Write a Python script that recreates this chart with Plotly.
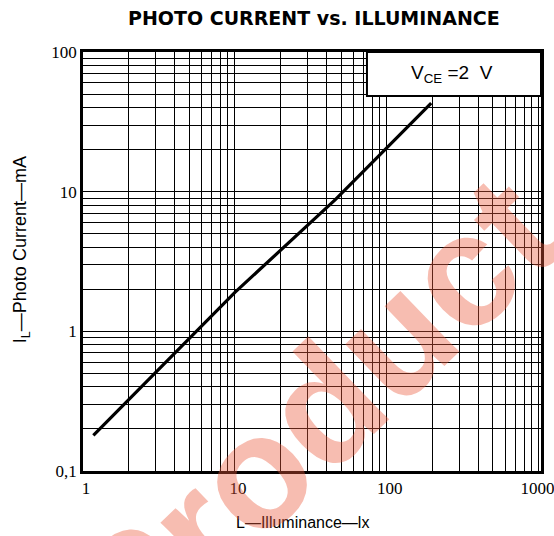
import plotly.graph_objects as go

# Data (log-log straight line)
illuminance_lx = [1.17, 10, 46, 196]
photo_current_mA = [0.18, 1.9, 8.8, 43]

# Axis ticks
x_major = [1, 10, 100, 1000]
x_major_labels = ["1", "10", "100", "1000\u00a0\u00a0"]
y_major = [0.1, 1, 10, 100]
y_major_labels = ["0,1", "1", "10", "100"]

def all_ticks(majors, labels):
    vals, texts = [], []
    for m, lab in zip(majors, labels):
        vals.append(m)
        texts.append(lab)
    for m in majors[:-1]:
        for k in range(2, 10):
            vals.append(m * k)
            texts.append("")
    return vals, texts

xv, xt = all_ticks(x_major, x_major_labels)
yv, yt = all_ticks(y_major, y_major_labels)

fig = go.Figure()
fig.add_trace(go.Scatter(
    x=illuminance_lx, y=photo_current_mA, mode="lines",
    line=dict(color="black", width=3.2), showlegend=False, hoverinfo="skip"))

tickfont = dict(family="Liberation Serif", size=17, color="black")
fig.update_xaxes(type="log", range=[0, 3.015], tickvals=xv, ticktext=xt,
                 showgrid=True, gridcolor="black", gridwidth=1.3,
                 showline=True, linecolor="black", linewidth=2.5, mirror=True,
                 ticks="", tickfont=tickfont, zeroline=False, automargin=False,
                 ticklabeloverflow="allow", ticklabelshift=3)
fig.update_yaxes(type="log", range=[-1, 2], tickvals=yv, ticktext=yt,
                 showgrid=True, gridcolor="black", gridwidth=1.3,
                 showline=True, linecolor="black", linewidth=2.5, mirror=True,
                 ticks="", tickfont=tickfont, zeroline=False, automargin=False)

# Condition box
fig.add_shape(type="rect", xref="paper", yref="paper", x0=0.62, x1=1, y0=0.895, y1=1,
              fillcolor="white", line=dict(color="black", width=2), layer="above")
fig.add_annotation(xref="paper", yref="paper", x=0.805, y=0.948,
                   xanchor="center", yanchor="middle",
                   text="V<sub>CE</sub> =2  V", showarrow=False,
                   font=dict(family="Liberation Sans", size=19, color="black"))

# Title and axis titles
fig.add_annotation(xref="paper", yref="paper", x=0.505, y=1, yshift=34,
                   xanchor="center", yanchor="middle",
                   text="<b>PHOTO CURRENT vs. ILLUMINANCE</b>", showarrow=False,
                   font=dict(family="DejaVu Sans", size=19, color="black"))
fig.add_annotation(xref="paper", yref="paper", x=0.48, y=0, yshift=-51,
                   xanchor="center", yanchor="middle",
                   text="L—Illuminance—lx", showarrow=False,
                   font=dict(family="Liberation Sans", size=16, color="black"))
fig.add_annotation(xref="paper", yref="paper", x=0, y=0.527, xshift=-62,
                   xanchor="center", yanchor="middle",
                   text="I<sub>L</sub>—Photo Current—mA", showarrow=False, textangle=-90,
                   font=dict(family="Liberation Sans", size=18, color="black"))

# Watermark
fig.add_annotation(xref="paper", yref="paper", x=(313 - 83) / 458, y=(471 - 415) / 419,
                   xanchor="center", yanchor="middle",
                   text="<b>Product</b>", showarrow=False, textangle=-44,
                   font=dict(family="Liberation Sans", size=160, color="rgba(235,90,60,0.4)"))

fig.update_layout(width=554, height=536, margin=dict(l=83, r=13, t=52, b=65, autoexpand=False),
                  plot_bgcolor="white", paper_bgcolor="white")
fig.write_html("out.html", config={"displayModeBar": False},
               post_script="document.body.style.margin='0';document.body.style.overflow='hidden';")
